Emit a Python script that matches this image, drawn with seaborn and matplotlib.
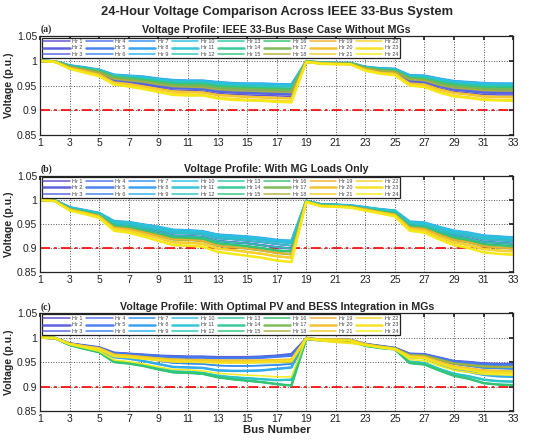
import matplotlib
matplotlib.use("Agg")
import matplotlib.pyplot as plt
from matplotlib.colors import LinearSegmentedColormap
import seaborn as sns

buses = list(range(1, 34))
hours = [f"Hr {h}" for h in range(1, 25)]

# (a) base case - distinct voltage profiles seen in the picture, bus 1..33
a_levels = [
    [1.000, 0.999, 0.991, 0.987, 0.982, 0.972, 0.970, 0.968, 0.964, 0.961, 0.960, 0.960, 0.957, 0.955, 0.954, 0.954, 0.953, 0.952, 0.999, 0.997, 0.996, 0.996, 0.988, 0.985, 0.984, 0.971, 0.970, 0.964, 0.959, 0.957, 0.955, 0.954, 0.954],
    [1.000, 0.999, 0.990, 0.985, 0.981, 0.970, 0.968, 0.965, 0.961, 0.957, 0.957, 0.956, 0.953, 0.951, 0.950, 0.950, 0.948, 0.948, 0.999, 0.996, 0.996, 0.995, 0.987, 0.984, 0.982, 0.969, 0.967, 0.960, 0.955, 0.953, 0.951, 0.950, 0.950],
    [1.000, 0.999, 0.989, 0.984, 0.979, 0.968, 0.965, 0.962, 0.958, 0.954, 0.953, 0.953, 0.949, 0.947, 0.946, 0.945, 0.944, 0.943, 0.999, 0.996, 0.995, 0.995, 0.986, 0.982, 0.980, 0.966, 0.964, 0.957, 0.952, 0.949, 0.947, 0.946, 0.946],
    [1.000, 0.999, 0.988, 0.983, 0.978, 0.966, 0.963, 0.959, 0.955, 0.951, 0.950, 0.950, 0.945, 0.944, 0.943, 0.942, 0.941, 0.940, 0.999, 0.996, 0.995, 0.995, 0.986, 0.981, 0.979, 0.964, 0.962, 0.954, 0.949, 0.946, 0.943, 0.943, 0.942],
    [1.000, 0.999, 0.988, 0.982, 0.976, 0.963, 0.960, 0.957, 0.952, 0.948, 0.947, 0.946, 0.942, 0.940, 0.939, 0.938, 0.937, 0.936, 0.999, 0.996, 0.995, 0.994, 0.985, 0.980, 0.978, 0.962, 0.960, 0.951, 0.945, 0.943, 0.940, 0.939, 0.939],
    [1.000, 0.998, 0.987, 0.981, 0.975, 0.961, 0.958, 0.954, 0.949, 0.945, 0.944, 0.943, 0.938, 0.936, 0.935, 0.934, 0.933, 0.932, 0.998, 0.995, 0.995, 0.994, 0.984, 0.979, 0.977, 0.959, 0.957, 0.949, 0.942, 0.939, 0.936, 0.935, 0.935],
    [1.000, 0.998, 0.986, 0.980, 0.973, 0.958, 0.955, 0.951, 0.946, 0.941, 0.940, 0.939, 0.934, 0.932, 0.931, 0.930, 0.929, 0.928, 0.998, 0.995, 0.994, 0.994, 0.983, 0.978, 0.975, 0.957, 0.954, 0.945, 0.938, 0.935, 0.932, 0.931, 0.931],
    [1.000, 0.998, 0.985, 0.979, 0.972, 0.956, 0.953, 0.948, 0.943, 0.938, 0.937, 0.936, 0.931, 0.929, 0.927, 0.926, 0.925, 0.924, 0.998, 0.995, 0.994, 0.993, 0.982, 0.976, 0.974, 0.954, 0.952, 0.942, 0.935, 0.932, 0.928, 0.927, 0.927],
    [1.000, 0.998, 0.984, 0.977, 0.970, 0.953, 0.950, 0.945, 0.939, 0.934, 0.933, 0.932, 0.926, 0.924, 0.922, 0.921, 0.920, 0.919, 0.998, 0.994, 0.993, 0.993, 0.980, 0.975, 0.972, 0.951, 0.949, 0.938, 0.930, 0.927, 0.923, 0.922, 0.922],
    [1.000, 0.998, 0.984, 0.976, 0.969, 0.952, 0.948, 0.943, 0.937, 0.931, 0.930, 0.930, 0.924, 0.921, 0.920, 0.919, 0.917, 0.916, 0.998, 0.994, 0.993, 0.993, 0.980, 0.974, 0.971, 0.950, 0.947, 0.936, 0.928, 0.925, 0.921, 0.920, 0.919],
]
a_hour_level = [6, 5, 5, 4, 4, 3, 0, 0, 1, 0, 1, 1, 2, 2, 2, 3, 3, 4, 7, 7, 7, 8, 9, 9]

# (b) with MG loads only
b_levels = [
    [1.000, 0.999, 0.985, 0.979, 0.973, 0.956, 0.954, 0.949, 0.944, 0.938, 0.937, 0.935, 0.928, 0.926, 0.924, 0.921, 0.917, 0.915, 0.998, 0.991, 0.990, 0.989, 0.985, 0.981, 0.978, 0.955, 0.953, 0.944, 0.936, 0.932, 0.926, 0.924, 0.922],
    [1.000, 0.999, 0.984, 0.978, 0.972, 0.954, 0.952, 0.947, 0.941, 0.935, 0.934, 0.932, 0.924, 0.922, 0.920, 0.917, 0.913, 0.911, 0.998, 0.991, 0.990, 0.988, 0.984, 0.980, 0.977, 0.953, 0.951, 0.941, 0.933, 0.929, 0.922, 0.920, 0.918],
    [1.000, 0.999, 0.983, 0.977, 0.971, 0.952, 0.949, 0.943, 0.938, 0.931, 0.930, 0.928, 0.920, 0.918, 0.915, 0.912, 0.908, 0.905, 0.998, 0.990, 0.989, 0.988, 0.983, 0.979, 0.975, 0.951, 0.948, 0.938, 0.929, 0.925, 0.918, 0.916, 0.914],
    [1.000, 0.999, 0.982, 0.976, 0.969, 0.949, 0.946, 0.940, 0.934, 0.926, 0.925, 0.923, 0.915, 0.912, 0.910, 0.906, 0.902, 0.899, 0.997, 0.990, 0.989, 0.987, 0.982, 0.978, 0.974, 0.948, 0.945, 0.935, 0.925, 0.920, 0.913, 0.911, 0.909],
    [1.000, 0.998, 0.981, 0.975, 0.968, 0.946, 0.943, 0.936, 0.929, 0.922, 0.921, 0.919, 0.910, 0.907, 0.904, 0.900, 0.895, 0.893, 0.997, 0.989, 0.988, 0.986, 0.981, 0.976, 0.972, 0.945, 0.942, 0.931, 0.921, 0.916, 0.908, 0.906, 0.904],
    [1.000, 0.998, 0.981, 0.974, 0.967, 0.943, 0.940, 0.933, 0.926, 0.918, 0.917, 0.915, 0.905, 0.902, 0.899, 0.895, 0.890, 0.887, 0.997, 0.988, 0.987, 0.986, 0.981, 0.975, 0.970, 0.943, 0.940, 0.928, 0.917, 0.912, 0.904, 0.901, 0.899],
    [1.000, 0.998, 0.979, 0.973, 0.965, 0.940, 0.936, 0.929, 0.921, 0.912, 0.911, 0.909, 0.899, 0.896, 0.892, 0.888, 0.883, 0.880, 0.996, 0.988, 0.987, 0.985, 0.979, 0.974, 0.968, 0.940, 0.936, 0.923, 0.912, 0.906, 0.898, 0.895, 0.893],
    [1.000, 0.998, 0.978, 0.971, 0.963, 0.936, 0.932, 0.924, 0.915, 0.906, 0.905, 0.903, 0.892, 0.888, 0.884, 0.880, 0.874, 0.871, 0.996, 0.987, 0.986, 0.984, 0.978, 0.972, 0.966, 0.936, 0.932, 0.918, 0.906, 0.900, 0.891, 0.888, 0.886],
]
b_hour_level = [3, 3, 2, 2, 1, 1, 1, 0, 0, 0, 1, 2, 3, 4, 4, 4, 5, 5, 5, 6, 6, 6, 7, 7]

# (c) with optimal PV and BESS
c_levels = [
    [1.000, 0.999, 0.988, 0.984, 0.980, 0.969, 0.967, 0.965, 0.963, 0.962, 0.961, 0.961, 0.960, 0.960, 0.960, 0.961, 0.963, 0.966, 0.998, 0.996, 0.996, 0.995, 0.987, 0.983, 0.979, 0.967, 0.966, 0.959, 0.952, 0.950, 0.947, 0.946, 0.946],
    [1.000, 0.999, 0.988, 0.983, 0.979, 0.968, 0.966, 0.964, 0.962, 0.960, 0.959, 0.959, 0.958, 0.958, 0.958, 0.959, 0.961, 0.963, 0.998, 0.996, 0.995, 0.995, 0.986, 0.982, 0.978, 0.966, 0.965, 0.958, 0.951, 0.948, 0.945, 0.944, 0.944],
    [1.000, 0.999, 0.987, 0.982, 0.977, 0.964, 0.962, 0.958, 0.953, 0.948, 0.947, 0.946, 0.943, 0.942, 0.942, 0.943, 0.944, 0.946, 0.998, 0.996, 0.995, 0.995, 0.986, 0.982, 0.978, 0.964, 0.962, 0.954, 0.946, 0.942, 0.938, 0.937, 0.936],
    [1.000, 0.999, 0.986, 0.980, 0.975, 0.960, 0.957, 0.952, 0.946, 0.940, 0.939, 0.938, 0.933, 0.932, 0.932, 0.933, 0.936, 0.939, 0.998, 0.995, 0.995, 0.994, 0.985, 0.980, 0.977, 0.960, 0.958, 0.946, 0.935, 0.930, 0.924, 0.921, 0.920],
    [1.000, 0.999, 0.985, 0.978, 0.971, 0.952, 0.949, 0.944, 0.937, 0.931, 0.930, 0.928, 0.922, 0.919, 0.917, 0.915, 0.913, 0.914, 0.998, 0.995, 0.995, 0.994, 0.984, 0.979, 0.977, 0.951, 0.948, 0.936, 0.926, 0.921, 0.914, 0.911, 0.910],
    [1.000, 0.999, 0.985, 0.977, 0.970, 0.950, 0.947, 0.942, 0.935, 0.929, 0.928, 0.926, 0.919, 0.915, 0.912, 0.909, 0.905, 0.902, 0.997, 0.994, 0.993, 0.993, 0.983, 0.979, 0.976, 0.948, 0.945, 0.933, 0.922, 0.916, 0.907, 0.904, 0.903],
    [1.000, 0.999, 0.987, 0.982, 0.977, 0.964, 0.962, 0.960, 0.957, 0.955, 0.954, 0.953, 0.951, 0.950, 0.950, 0.950, 0.950, 0.950, 0.998, 0.996, 0.995, 0.995, 0.986, 0.982, 0.978, 0.964, 0.963, 0.955, 0.947, 0.944, 0.941, 0.940, 0.940],
    [1.000, 0.999, 0.987, 0.982, 0.978, 0.965, 0.963, 0.960, 0.957, 0.955, 0.954, 0.954, 0.953, 0.953, 0.953, 0.953, 0.954, 0.955, 0.998, 0.996, 0.996, 0.995, 0.986, 0.981, 0.977, 0.962, 0.960, 0.950, 0.941, 0.937, 0.933, 0.932, 0.931],
    [1.000, 0.999, 0.987, 0.981, 0.976, 0.962, 0.960, 0.957, 0.954, 0.951, 0.951, 0.950, 0.949, 0.949, 0.949, 0.950, 0.951, 0.952, 0.998, 0.994, 0.991, 0.989, 0.985, 0.980, 0.976, 0.960, 0.958, 0.947, 0.938, 0.934, 0.929, 0.928, 0.927],
    [1.000, 0.999, 0.986, 0.979, 0.972, 0.954, 0.951, 0.946, 0.940, 0.935, 0.934, 0.932, 0.927, 0.925, 0.923, 0.922, 0.920, 0.920, 0.998, 0.995, 0.995, 0.994, 0.984, 0.980, 0.977, 0.955, 0.953, 0.942, 0.933, 0.929, 0.925, 0.924, 0.923],
]
c_hour_level = [0, 0, 0, 1, 1, 2, 2, 3, 3, 4, 4, 4, 5, 5, 5, 5, 6, 6, 7, 7, 7, 8, 8, 9]

panel_titles = [
    "Voltage Profile: IEEE 33-Bus Base Case Without MGs",
    "Voltage Profile: With MG Loads Only",
    "Voltage Profile: With Optimal PV and BESS Integration in MGs",
]
panel_tags = ["(a)", "(b)", "(c)"]
panels = [(a_levels, a_hour_level), (b_levels, b_hour_level), (c_levels, c_hour_level)]

sns.set_theme(style="white")
plt.rcParams["font.family"] = ["Liberation Sans", "DejaVu Sans"]

# hourly colour ramp as seen in the legend (purple -> blue -> cyan -> green -> olive -> orange -> yellow)
ramp = LinearSegmentedColormap.from_list("hours", [
    (0.0, "#5b4fd0"), (3 / 23, "#4f72ec"), (6 / 23, "#2f8ff2"), (9 / 23, "#2cc0ea"),
    (12 / 23, "#2ccaa8"), (15 / 23, "#34c46a"), (17 / 23, "#b2ae3c"), (18 / 23, "#f2b22c"),
    (21 / 23, "#f8d52a"), (1.0, "#f6ec10")])
colors = [ramp(i / 23) for i in range(24)]
widths = [1.8 if i % 3 == 1 else 1.1 for i in range(24)]
line_alpha = 0.95

fig = plt.figure(figsize=(5.5, 4.41), dpi=100)
fig.text(0.503, 0.972, "24-Hour Voltage Comparison Across IEEE 33-Bus System",
         ha="center", va="center", fontsize=9.3, fontweight="bold")

boxes = [(0.694, 0.224), (0.383, 0.218), (0.068, 0.222)]
tag_y = [0.934, 0.617, 0.304]

for k, (levels, hour_level) in enumerate(panels):
    bottom, height = boxes[k]
    ax = fig.add_axes([0.073, bottom, 0.860, height])
    for i, hr in enumerate(hours):
        sns.lineplot(x=buses, y=levels[hour_level[i]], color=colors[i],
                     lw=widths[i], alpha=line_alpha, label=hr, ax=ax)
    ax.axhline(0.9, color="red", lw=1.2, ls=(0, (6, 2.5, 1.5, 2.5)), zorder=1)

    ax.set_xlim(1, 33)
    ax.set_ylim(0.85, 1.05)
    ax.set_xticks(range(1, 34, 2))
    ax.set_yticks([0.85, 0.9, 0.95, 1.0, 1.05])
    ax.set_yticklabels(["0.85", "0.9", "0.95", "1", "1.05"])
    ax.tick_params(direction="in", length=3, labelsize=7.5, top=True, right=True,
                   pad=2, colors="#222222")
    ax.grid(True, ls=":", lw=0.7, color="#555555")
    for s in ax.spines.values():
        s.set_color("#222222")
        s.set_linewidth(0.9)

    ax.set_title(panel_titles[k], fontsize=7.7, fontweight="bold", pad=2.5)
    ax.set_ylabel("Voltage (p.u.)", fontsize=7.6, fontweight="bold", labelpad=2)
    if k == 2:
        ax.set_xlabel("Bus Number", fontsize=8.2, fontweight="bold", labelpad=1)
    else:
        ax.set_xlabel("")
    fig.text(0.073, tag_y[k], panel_tags[k], fontsize=7, fontweight="bold",
             family=["Liberation Serif", "DejaVu Serif"], va="center")

    leg = ax.legend(ncol=8, loc="upper left", fontsize=3.9,
                    handlelength=4.9, handletextpad=0.5, columnspacing=0.6,
                    labelspacing=0.25, borderpad=0.3, borderaxespad=0.25,
                    frameon=True, fancybox=False, framealpha=1)
    leg.get_frame().set_edgecolor("#222222")
    leg.get_frame().set_linewidth(0.9)
    for t in leg.get_texts():
        t.set_color("#444444")

fig.savefig("out.png", dpi=100)
